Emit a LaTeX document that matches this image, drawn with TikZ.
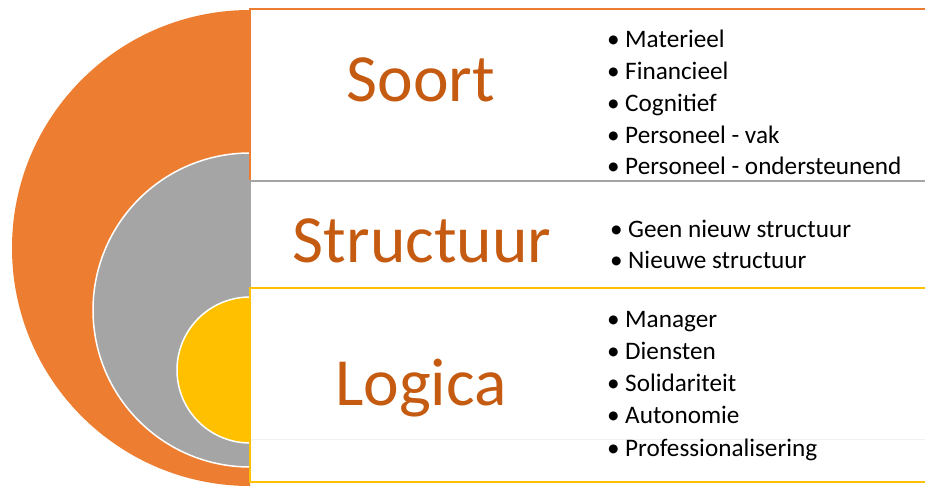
\documentclass[tikz,border=0pt]{standalone}
\usepackage{fontspec}
\setmainfont{Carlito}
\definecolor{cOrange}{HTML}{ED7D31}
\definecolor{cGray}{HTML}{A5A5A5}
\definecolor{cYellow}{HTML}{FFC000}
\definecolor{cTitle}{HTML}{C55A11}
\tikzset{
  title/.style={inner sep=0pt, anchor=base, text=cTitle, font=\fontsize{67.5}{70}\selectfont},
  item/.style={inner sep=0pt, anchor=base west, text=black, font=\fontsize{25.2}{28}\selectfont},
  boxline/.style={line width=1.6pt},
}
\newcommand{\itm}[1]{\makebox[18pt][l]{\textbullet}#1}
\begin{document}
\begin{tikzpicture}[x=1pt,y=1pt]
\useasboundingbox (0,0) rectangle (925,488);
\fill[white] (0,0) rectangle (925,488);
% semicircles
\fill[cOrange] (250,478) arc[start angle=90, end angle=270, radius=238] -- cycle;
\filldraw[fill=cGray, draw=white, line width=1.5pt] (250,335) arc[start angle=90, end angle=270, radius=157] -- cycle;
\filldraw[fill=cYellow, draw=white, line width=1.5pt] (250,191) arc[start angle=90, end angle=270, radius=73] -- cycle;
% boxes
\fill[white] (250,479) rectangle (940,6);
\draw[boxline, draw=cOrange] (940,479) -- (250,479) -- (250,307);
\draw[boxline, draw=cGray] (940,307) -- (250,307) -- (250,200);
\draw[line width=0.8pt, draw=black!5] (251,49) -- (940,49);
\draw[boxline, draw=cYellow] (940,200) -- (250,200) -- (250,6) -- (940,6);
% titles
\node[title] (soort) at (421,386) {Soort};
\node[title] (struct) at (422,226) {Structuur};
\node[title] (logica) at (421,83) {Logica};
% items
\node[item] (s1) at (607,440) {\itm{Materieel}};
\node[item] (s2) at (607,408.25) {\itm{Financieel}};
\node[item] (s3) at (607,376.5) {\itm{Cognitief}};
\node[item] (s4) at (607,344.75) {\itm{Personeel - vak}};
\node[item] (s5) at (607,313) {\itm{Personeel - ondersteunend}};
\node[item] (t1) at (610,251) {\itm{Geen nieuw structuur}};
\node[item] (t2) at (610,220) {\itm{Nieuwe structuur}};
\node[item] (l1) at (607,161) {\itm{Manager}};
\node[item] (l2) at (607,128.75) {\itm{Diensten}};
\node[item] (l3) at (607,96.5) {\itm{Solidariteit}};
\node[item] (l4) at (607,64.25) {\itm{Autonomie}};
\node[item] (l5) at (607,32) {\itm{Professionalisering}};
\end{tikzpicture}
\end{document}
